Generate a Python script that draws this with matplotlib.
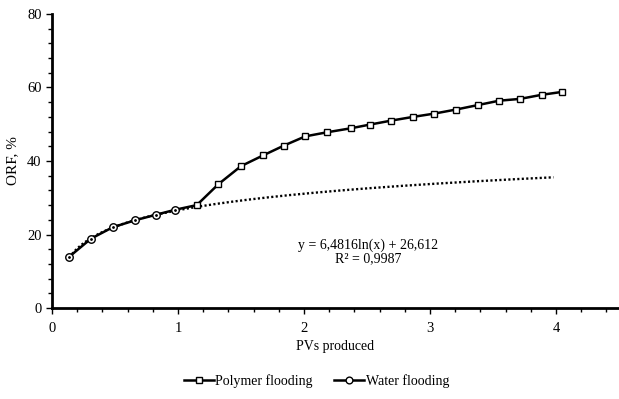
import numpy as np
import matplotlib
matplotlib.use("Agg")
import matplotlib.pyplot as plt
from matplotlib.ticker import MultipleLocator

plt.rcParams['font.family'] = ['Liberation Serif', 'DejaVu Serif']

# Water flooding stage
water_x = [0.137, 0.309, 0.481, 0.658, 0.826, 0.980]
water_y = [13.96, 18.86, 21.96, 23.86, 25.39, 26.75]

# Polymer flooding stage
poly_x = [1.149, 1.321, 1.500, 1.674, 1.841, 2.010, 2.181, 2.372, 2.522,
          2.694, 2.866, 3.035, 3.207, 3.378, 3.548, 3.716, 3.885, 4.049]
poly_y = [28.0, 33.7, 38.6, 41.5, 44.2, 46.7, 47.8, 48.9, 49.9,
          51.0, 52.0, 52.9, 54.0, 55.2, 56.4, 56.9, 58.0, 58.8]

# Logarithmic trend fitted to water flooding, forecast 3 PV forward
trend_a = 6.4816
trend_b = 26.612
trend_r2 = "0,9987"
trend_forward = 3.0

fig = plt.figure(figsize=(6.19, 3.99), dpi=100)
ax = fig.add_axes([0.084, 0.228, 0.916, 0.737])

tx = np.linspace(min(water_x), max(water_x) + trend_forward, 300)
ax.plot(tx, trend_a * np.log(tx) + trend_b, color='black', lw=1.7,
        linestyle=(0, (0.9, 1.0)), zorder=2)

# connecting segment from last water point to first polymer point
ax.plot([water_x[-1], poly_x[0]], [water_y[-1], poly_y[0]], color='black',
        lw=1.8, zorder=3)

ax.plot(poly_x, poly_y, color='black', lw=1.8, marker='s', markersize=4.6,
        markerfacecolor='white', markeredgecolor='black', markeredgewidth=1.0,
        label='Polymer flooding', zorder=4)
ax.plot(water_x, water_y, color='black', lw=1.8, marker='o', markersize=5.4,
        markerfacecolor='white', markeredgecolor='black', markeredgewidth=1.0,
        label='Water flooding', zorder=4)
ax.plot(water_x, water_y, linestyle='none', marker='o', markersize=1.0,
        color='black', zorder=5)

ax.text(2.51, 15.3, "y = 6,4816ln(x) + 26,612\nR² = " + trend_r2,
        ha='center', va='center', fontsize=10, linespacing=1.0)

ax.set_xlim(0, 4.5)
ax.set_ylim(0, 80)
ax.xaxis.set_major_locator(MultipleLocator(1))
ax.xaxis.set_minor_locator(MultipleLocator(0.2))
ax.yaxis.set_major_locator(MultipleLocator(20))
ax.yaxis.set_minor_locator(MultipleLocator(4))
ax.tick_params(which='major', length=4, width=1, labelsize=10.5, direction='out')
ax.tick_params(axis='x', which='major', pad=6)
ax.tick_params(which='minor', length=3, width=1, direction='out')

for s in ['top', 'right']:
    ax.spines[s].set_visible(False)
for s in ['left', 'bottom']:
    ax.spines[s].set_linewidth(2)

ax.set_xlabel('PVs produced', fontsize=10, labelpad=4)
ax.set_ylabel('ORF, %', fontsize=11, labelpad=6)

fig.legend(loc='center', bbox_to_anchor=(0.511, 0.045), ncol=2, frameon=False,
           fontsize=10, handlelength=2.2, columnspacing=1.5, handletextpad=0.1,
           markerscale=0.9)

fig.savefig('out.png', dpi=100)
